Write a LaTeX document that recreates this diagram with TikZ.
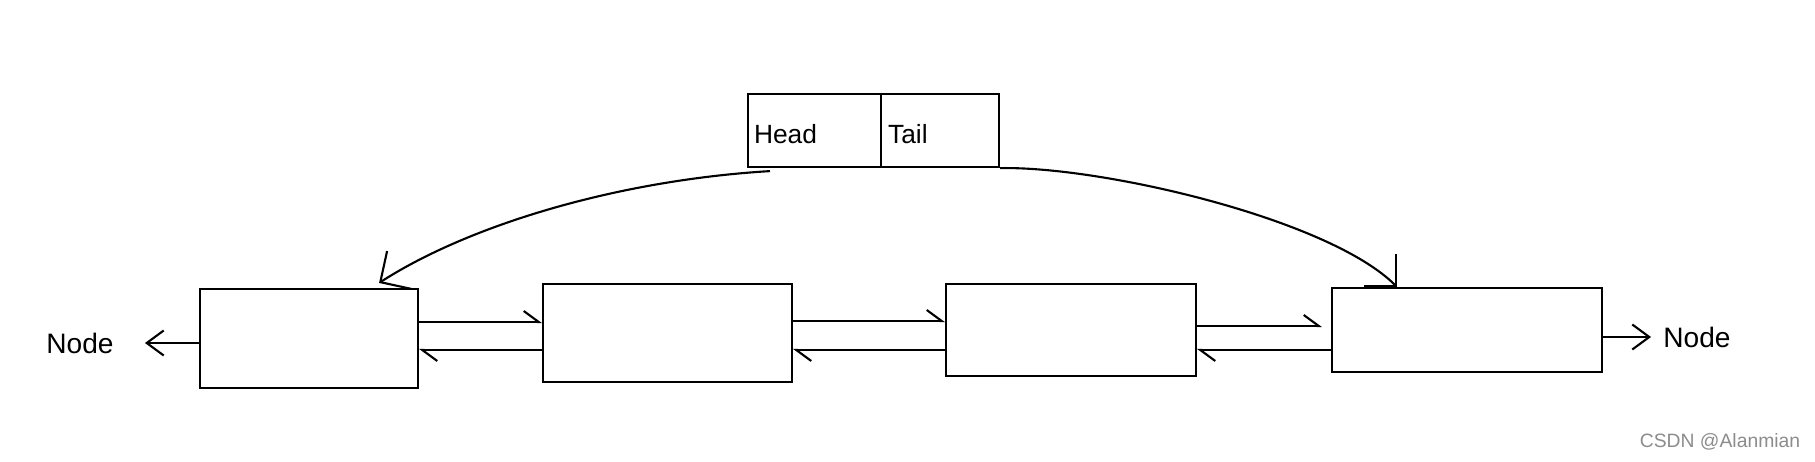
\documentclass[tikz,border=0pt]{standalone}
\usepackage{fontspec}
\setmainfont{Liberation Sans}
\usetikzlibrary{arrows.meta, calc}
\tikzset{
  cell/.style={draw, line width=1.2pt, inner sep=0pt},
  word/.style={inner sep=0pt, font=\fontsize{16}{19}\selectfont},
  field/.style={cell, minimum height=73*0.02cm, align=left, anchor=north west,
    text height=14.5pt, text depth=0pt, font=\fontsize{15}{18}\selectfont},
  link/.style={line width=1.2pt, -{Straight Barb[left, length=0.3cm, width=0.44cm]}},
  side/.style={line width=1.2pt, -{Straight Barb[length=0.34cm, width=0.5cm]}},
  curl/.style={line width=1.2pt, -{Straight Barb[length=0.45cm, width=0.9cm]}},
  wm/.style={inner sep=0pt, text=black!45, font=\fontsize{11}{13}\selectfont},
}
\def\yA{322}
\def\yB{321}
\def\yC{326}
\def\yBack{350}

\begin{document}
\begin{tikzpicture}[x=0.02cm, y=-0.02cm]
\useasboundingbox (0,0) rectangle (1815,462);

\node[field, minimum width=133*0.02cm, text width=121*0.02cm, inner xsep=6*0.02cm] (hd) at (747,93) {Head};
\node[field, minimum width=118*0.02cm, text width=104*0.02cm, inner xsep=7*0.02cm] (tl) at (880,93) {Tail};

\node[cell, minimum width=218*0.02cm, minimum height=99*0.02cm] (b1) at (309,338.5) {};
\node[cell, minimum width=249*0.02cm, minimum height=98*0.02cm] (b2) at (667.5,333) {};
\node[cell, minimum width=250*0.02cm, minimum height=92*0.02cm] (b3) at (1071,330) {};
\node[cell, minimum width=270*0.02cm, minimum height=84*0.02cm] (b4) at (1467,330) {};

\node[word] (nl) at (80,343) {Node};
\node[word] (nr) at (1697,337) {Node};
\node[wm] (csdn) at (1720,442) {CSDN @Alanmian};

\draw[link] (b1.east |- 0,\yA) -- (b2.west |- 0,\yA);
\draw[link] (b2.west |- 0,\yBack) -- (b1.east |- 0,\yBack);
\draw[link] (b2.east |- 0,\yB) -- (b3.west |- 0,\yB);
\draw[link] (b3.west |- 0,\yBack) -- (b2.east |- 0,\yBack);
\draw[link, shorten >=0.18cm] (b3.east |- 0,\yC) -- (b4.west |- 0,\yC);
\draw[link] (b4.west |- 0,\yBack) -- (b3.east |- 0,\yBack);

\draw[side, shorten >=0.62cm] (b1.west |- nl) -- (nl.east);
\draw[side, shorten >=0.24cm] (b4.east |- nr) -- (nr.west);

\draw[curl] ($(hd.south west)+(23,3)$) .. controls +(-150,9) and +(92,-59) .. ($(b1.north east)+(-40,-5)$);
\draw[curl] (tl.south east) .. controls +(102,-2) and +(-68,-68) .. ($(b4.north west)+(66,0)$);

\end{tikzpicture}
\end{document}
